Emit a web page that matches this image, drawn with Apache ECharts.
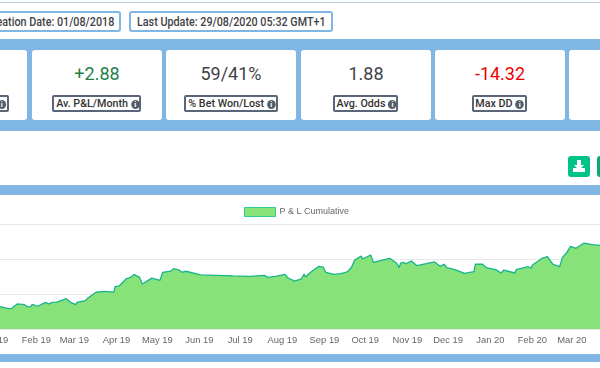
<!DOCTYPE html>
<html><head><meta charset="utf-8">
<style>
html,body{margin:0;padding:0;width:600px;height:368px;overflow:hidden;background:#fff;font-family:Roboto,sans-serif;color:#3f4347}
.abs{position:absolute;box-sizing:border-box}
.top{height:21px;top:11px;border:2px solid #7fb6e4;border-radius:3px;font-size:12.6px;font-weight:500;line-height:17px;white-space:nowrap;background:#fff;overflow:hidden}
.top span{position:absolute;top:0;display:inline-block}
.top .l{left:6px;transform:scaleX(.855);transform-origin:left center}
.top .r{right:5px;transform:scaleX(.855);transform-origin:right center}
.band{left:0;width:600px;background:#7fb6e4}
.card{top:50px;height:70px;background:#fff;border-radius:3px;text-align:center}
.val{position:absolute;left:0;right:0;top:12px;font-size:18px;line-height:24px}
.lab{position:absolute;top:45px;height:17px;border:2px solid #5b6579;border-radius:2px;font-size:11.3px;font-weight:500;line-height:13px;white-space:nowrap;text-align:center;box-sizing:border-box;color:#333;overflow:hidden}
.lab b{font-weight:500;display:inline-block;transform:scaleX(.95);transform-origin:center}
.i{display:inline-block;width:9px;height:9px;border-radius:50%;background:#555c66;color:#fff;font-size:8px;line-height:9px;font-weight:700;text-align:center;margin-left:3px;vertical-align:0}
#chart{position:absolute;left:-60px;top:0;width:760px;height:368px}
</style>
<script src="https://cdn.jsdelivr.net/npm/echarts@6/dist/echarts.min.js"></script>
</head><body>
<div class="abs band" style="top:2px;height:1px;background:#b5cde0"></div>
<div class="abs top" style="left:-40px;width:161px"><span class="r">Creation Date: 01/08/2018</span></div>
<div class="abs top" style="left:129px;width:204px"><span class="l">Last Update: 29/08/2020 05:32 GMT+1</span></div>
<div class="abs band" style="top:39px;height:92px"></div>
<div id="cards"></div>
<div class="abs" style="left:568px;top:156px;width:22px;height:21px;background:#00c389;border-radius:3px">
<svg width="22" height="21" viewBox="0 0 22 21"><path d="M9 4h4v5h3l-5 5-5-5h3zM5 12h4l2 2 2-2h4v4H5z" fill="#fff"/></svg></div>
<div class="abs" style="left:597px;top:156px;width:22px;height:21px;background:#0aa77c;border-radius:3px"></div>
<div class="abs band" style="top:185px;height:10px"></div>
<div class="abs band" style="top:354px;height:8px"></div>
<div id="chart"></div>
<script>
const dayOffsets=[-31,5,11,13,17,22,25,27,28,32,38,40,43,46,47,53,57,58,60,61,67,69,75,81,88,89,92,97,100,103,107,109,116,122,124,130,132,136,137,138,141,152,176,188,199,201,207,208,214,216,221,226,228,229,233,239,242,244,250,255,256,257,260,263,265,270,271,277,279,291,296,298,299,301,303,307,311,324,328,331,333,339,346,353,354,359,362,369,373,375,383,384,393,395,396,400,403,407,411,416,418,421,424,425,428,434,440,446,456];
const pnlCumulative=[12.5,12.6,11.6,11.8,14.3,13.9,12.6,12.8,14.1,13.0,15.2,14.3,15.2,15.4,16.4,17.3,14.9,15.4,13.9,15.2,16.2,17.7,21.0,21.5,21.1,24.2,24.6,28.6,29.3,31.1,29.5,25.7,29.1,27.8,32.4,33.1,34.5,33.7,33.9,32.4,33.0,30.9,30.3,30.1,30.7,29.5,30.1,29.7,31.2,29.3,27.4,28.6,31.4,29.7,32.6,35.8,35.4,32.4,31.2,31.6,30.5,32.0,32.8,35.4,39.2,41.7,40.0,42.3,38.1,40.4,37.7,35.1,37.7,38.1,37.3,38.9,36.2,38.3,35.8,37.0,35.1,33.9,31.8,32.8,37.0,37.1,35.1,33.9,32.0,33.7,32.0,33.9,35.6,34.7,36.6,38.7,40.4,41.3,37.0,35.6,40.8,43.4,47.2,46.3,46.1,49.1,48.2,47.8,47.8];
const seriesName='P & L Cumulative';
const yTicks=[0,20,40,60];
const cardTitles=['Yield','Av. P&L/Month','% Bet Won/Lost','Avg. Odds','Max DD',''];
const cardValues=['','+2.88','59/41%','1.88','-14.32',''];
const cardColors=['#3f4347','#1f8049','#3f4347','#3f4347','#f00000','#3f4347'];
const cardLefts=[-103,32,166,301,435,569];
const labelBoxes=[[-60,172],[20,89],[18,94],[32,65],[37,55],null];

const host=document.getElementById('cards');
cardTitles.forEach((t,i)=>{
  const c=document.createElement('div');c.className='abs card';
  c.style.left=cardLefts[i]+'px';c.style.width='130px';
  const v=document.createElement('div');v.className='val';v.textContent=cardValues[i];v.style.color=cardColors[i];c.appendChild(v);
  if(labelBoxes[i]){
    const l=document.createElement('div');l.className='lab';l.style.left=labelBoxes[i][0]+'px';l.style.width=labelBoxes[i][1]+'px';
    if(i===0)l.style.textAlign='right';
    const w=document.createElement('b');w.textContent=t;
    const s=document.createElement('span');s.className='i';s.textContent='i';w.appendChild(s);
    l.appendChild(w);
    c.appendChild(l);
  }
  host.appendChild(c);
});

const chart=echarts.init(document.getElementById('chart'),null,{renderer:'canvas'});
chart.setOption({
  animation:false,
  backgroundColor:'transparent',
  useUTC:true,
  legend:{show:true,left:299,top:202,itemWidth:31,itemHeight:9,itemGap:4,icon:'rect',
    textStyle:{color:'#666',fontSize:9,fontFamily:'Liberation Sans',padding:[0,0,0,-1]},
    itemStyle:{color:'#88e27a',borderColor:'#2ecb8b',borderWidth:1},
    data:[seriesName]},
  grid:{left:12,top:224,width:662,height:105,containLabel:false,outerBoundsMode:'none'},
  xAxis:{type:'time',
    min:Date.UTC(2018,11,1),max:Date.UTC(2020,3,1),splitNumber:16,
    axisLine:{show:true,lineStyle:{color:'#e5e5e5',width:1}},
    axisTick:{show:false},
    splitLine:{show:false},
    axisLabel:{color:'#666',fontSize:9.4,fontFamily:'Liberation Sans',margin:7,formatter:'{MMM} {yy}',hideOverlap:false}},
  yAxis:{type:'value',min:yTicks[0],max:yTicks[yTicks.length-1],interval:20,
    axisLine:{show:false},axisTick:{show:false},axisLabel:{show:false},
    splitLine:{show:true,lineStyle:{color:'#e8e8e8',width:1}}},
  series:[{name:seriesName,type:'line',symbol:'none',smooth:false,
    lineStyle:{color:'#17b48a',width:1.3},
    areaStyle:{color:'#88e27a',opacity:1},
    itemStyle:{color:'#88e27a',borderColor:'#2ecb8b'},
    data:dayOffsets.map((d,i)=>[Date.UTC(2019,0,1+d),pnlCumulative[i]])}]
});
</script>
</body></html>
